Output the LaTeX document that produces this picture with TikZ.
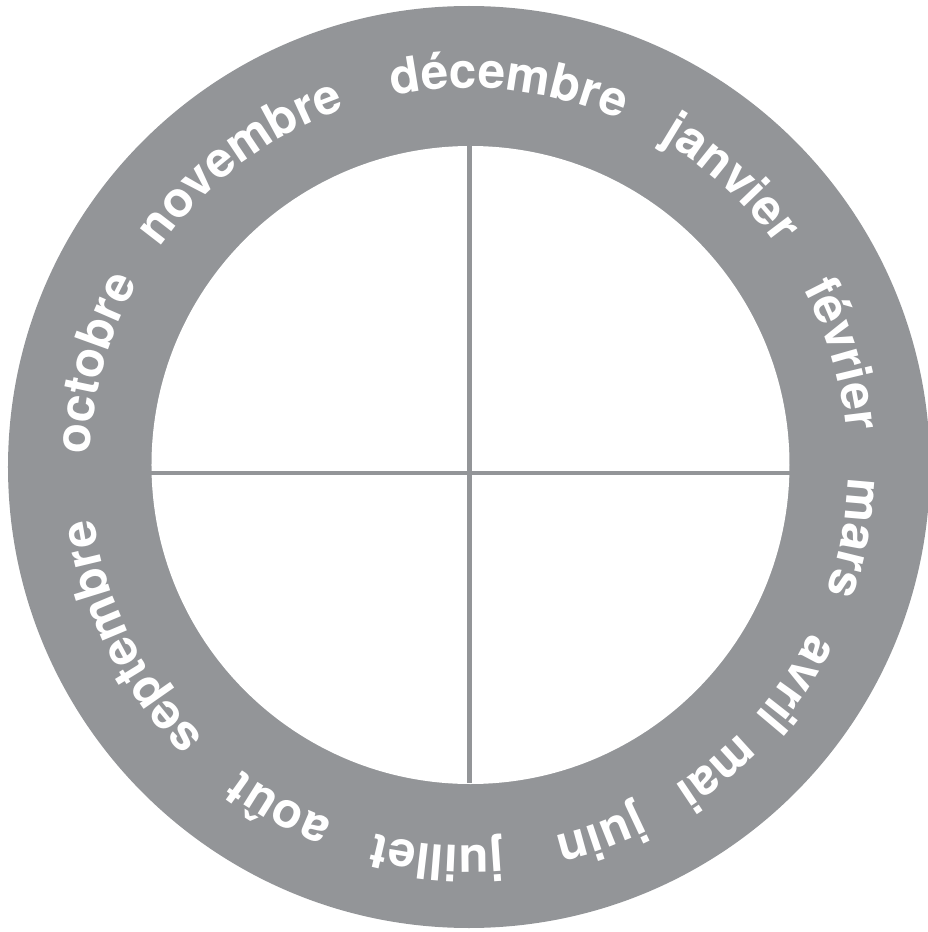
\documentclass[tikz,border=0pt]{standalone}
\usepackage{fontspec}
\setmainfont{TeX Gyre Heros}
\usetikzlibrary{decorations.text}
\definecolor{ringgray}{HTML}{939598}
\newcommand\monthfont{\fontsize{28}{28}\selectfont\bfseries\color{white}}

\begin{document}
\begin{tikzpicture}[
        ring/.style={fill=ringgray},
        divider/.style={draw=ringgray, line width=2.8pt},
        month/.style={decorate, decoration={text along path, text align=center, text/.expanded={|\noexpand\monthfont|#1}}}
    ]
        \useasboundingbox (-9.38,-9.30) rectangle (9.18,9.34);

        \coordinate (c)  at (0,0);
        \coordinate (ci) at (0.03,0.04);
        \fill[ring]  (c)  circle (9.22);
        \fill[white] (ci) circle (6.38);

        % cross
        \coordinate (north) at (0.01,6.42);
        \coordinate (south) at (0.01,-6.32);
        \coordinate (west)  at (-6.36,-0.12);
        \coordinate (east)  at (6.42,-0.12);
        \draw[divider] (north) -- (south);
        \draw[divider] (west) -- (east);

        % months, clockwise
        \foreach \ang/\name in {84/décembre, 47.7/janvier, 16.8/février, -10.5/mars,
                                -33.5/avril, -50.9/mai, -70.3/juin, -94.7/juillet,
                                -119/août, -153.3/septembre, 164.5/octobre, 126.8/novembre}
            \path[month=\name] (\ang+35:7.58) arc[start angle=\ang+35, delta angle=-70, radius=7.58];
    \end{tikzpicture}
\end{document}
